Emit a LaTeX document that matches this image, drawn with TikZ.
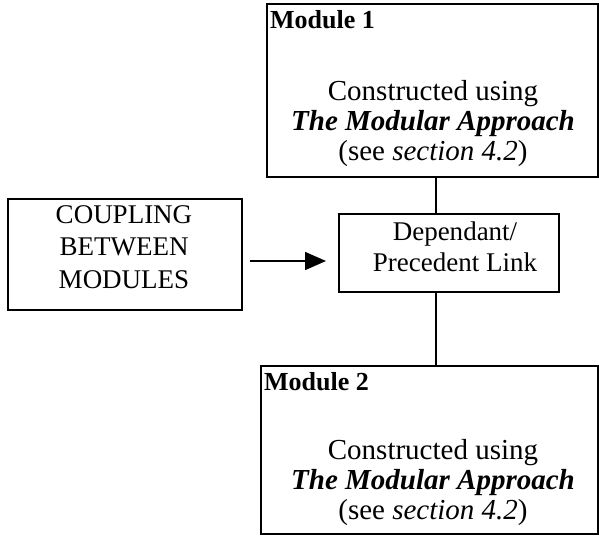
\documentclass[tikz,border=0pt]{standalone}
\usepackage{fontspec}
\setmainfont{Liberation Serif}
\usetikzlibrary{arrows.meta}
\begin{document}
\begin{tikzpicture}[x=1pt,y=-1pt,
  box/.style={draw, line width=1.5pt, inner sep=0pt, anchor=north west},
  txt/.style={font=\fontsize{27}{30}\selectfont, anchor=base, inner sep=0pt},
  modtxt/.style={font=\fontsize{29}{32}\selectfont, anchor=base, inner sep=0pt},
  modlabel/.style={font=\bfseries\fontsize{26}{30}\selectfont, anchor=base west, inner sep=0pt},
  conn/.style={line width=1.6pt},
]
\useasboundingbox (0,0) rectangle (599,536);

% boxes
\node[box, minimum width=331pt, minimum height=173pt] (m1) at (266,3) {};
\node[box, minimum width=337pt, minimum height=168pt] (m2) at (260,365) {};
\node[box, minimum width=220pt, minimum height=78pt] (dep) at (338,213) {};
\node[box, minimum width=234pt, minimum height=111pt] (coup) at (7,198) {};

% Module 1
\node[modlabel] (m1label) at (270,28) {Module 1};
\node[modtxt] (m1a) at (433,100) {Constructed using};
\node[modtxt] (m1b) at (433,130) {\textbf{\textit{The Modular Approach}}};
\node[modtxt] (m1c) at (433,160) {(see \textit{section 4.2})};

% Module 2
\node[modlabel] (m2label) at (264,390) {Module 2};
\node[modtxt] (m2a) at (433,459) {Constructed using};
\node[modtxt] (m2b) at (433,489) {\textbf{\textit{The Modular Approach}}};
\node[modtxt] (m2c) at (433,519) {(see \textit{section 4.2})};

% coupling box text
\node[txt] (ca) at (124,223) {COUPLING};
\node[txt] (cb) at (124,255) {BETWEEN};
\node[txt] (cc) at (124,288) {MODULES};

% link box text
\node[txt] (da) at (455,240) {Dependant/};
\node[txt] (db) at (455,271) {Precedent Link};

% connectors
\coordinate (lx) at (436,0);
\coordinate (ay) at (0,261);
\draw[conn] (m1.south -| lx) -- (dep.north -| lx);
\draw[conn] (dep.south -| lx) -- (m2.north -| lx);
\draw[conn, -{Triangle[length=21pt,width=18pt]}, shorten <=7pt, shorten >=12pt]
  (coup.east |- ay) -- (dep.west |- ay);
\end{tikzpicture}
\end{document}
